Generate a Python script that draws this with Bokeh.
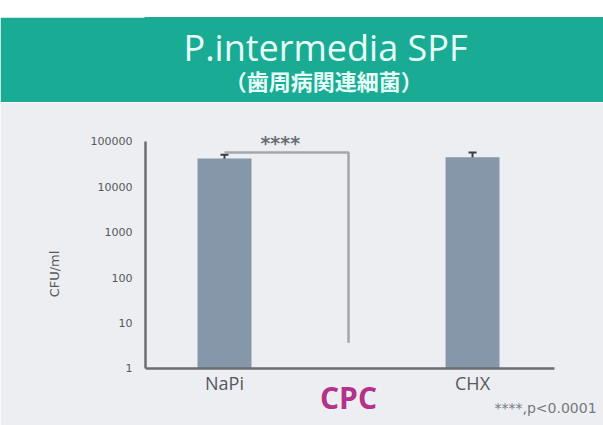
from bokeh.plotting import figure
from bokeh.layouts import column
from bokeh.models import (Range1d, FixedTicker, PrintfTickFormatter, Whisker,
                          ColumnDataSource, TeeHead, Spacer)
from bokeh.embed import file_html
from bokeh.resources import INLINE
from bokeh.core.properties import value

# ---- data ----
categories = ["NaPi", "CPC", "CHX"]
cfu_mean = [42000, 0, 45000]
cfu_err = [9000, 0, 12000]
y_ticks = [1, 10, 100, 1000, 10000, 100000]
bracket_y = 57000      # significance bracket level
bracket_end = 3.7      # lower end of bracket at CPC
sig_text = "****"
p_note = "****,p<0.0001"
title_text = "P.intermedia SPF"
subtitle_text = "（歯周病関連細菌）"

W = 603
LEFT = 145
GREEN = "#1aab94"
BAR = "#8597a8"
AX = "#6a6d72"
TXT = "#55585c"
BG = "#edeef2"

# ---- banner ----
top_pad = Spacer(width=W, height=17)
banner = figure(width=W, height=85, x_range=Range1d(0, 1), y_range=Range1d(0, 1),
                x_axis_location=None, y_axis_location=None, toolbar_location=None,
                output_backend="svg", min_border=0, min_border_left=LEFT,
                border_fill_color=GREEN, background_fill_color=GREEN,
                outline_line_color=GREEN, outline_line_width=2)
banner.grid.visible = False
banner.text(x=[0.393], y=[0.647], text=[title_text], text_font=value("Open Sans"),
            text_font_size="36px", text_color="#e6fff8", text_align="center",
            text_baseline="middle")
banner.text(x=[0.389], y=[0.27], text=[subtitle_text], text_font=value("Noto Sans CJK JP"),
            text_font_size="22px", text_font_style="bold", text_color="#e6fff8",
            text_align="center", text_baseline="middle")

# ---- chart ----
xs = list(range(len(categories)))
p = figure(width=W, height=323, x_range=Range1d(-0.637, 3.056),
           y_range=Range1d(0.0555, 262000), y_axis_type="log",
           x_axis_location=None, toolbar_location=None, output_backend="svg",
           min_border_left=LEFT, min_border_right=0, min_border_top=20, min_border_bottom=0,
           background_fill_color=BG, border_fill_color=BG,
           outline_line_color=BG, outline_line_width=2)
p.grid.visible = False

bx = [x for x, v in zip(xs, cfu_mean) if v > 0]
bt = [v for v in cfu_mean if v > 0]
be = [e for v, e in zip(cfu_mean, cfu_err) if v > 0]
src = ColumnDataSource(dict(x=bx, top=bt, upper=[t + e for t, e in zip(bt, be)],
                            lower=[t - e for t, e in zip(bt, be)]))
p.vbar(x="x", top="top", bottom=y_ticks[0], width=0.435, source=src,
       fill_color=BAR, line_color=None)
p.add_layout(Whisker(base="x", upper="upper", lower="lower", source=src,
                     line_color="#3b3d40", line_width=2,
                     upper_head=TeeHead(size=8, line_color="#3b3d40", line_width=2),
                     lower_head=TeeHead(size=8, line_color="#3b3d40", line_width=2)))

# x axis line (at y = 1)
p.segment(x0=[-0.637], y0=[y_ticks[0]], x1=[xs[-1] + 0.66], y1=[y_ticks[0]],
          line_color=AX, line_width=2.5)

# significance bracket NaPi -> CPC
p.line(x=[xs[0], xs[1], xs[1]], y=[bracket_y, bracket_y, bracket_end],
       line_color="#a3a6aa", line_width=2.5)
p.text(x=[0.45], y=[93000], text=[sig_text], text_font=value("DejaVu Sans"),
       text_font_size="19px", text_font_style="bold", text_color="#6a6d72",
       text_align="center", text_baseline="middle")

# category labels
p.text(x=[xs[0], xs[2]], y=[0.47, 0.47], text=[categories[0], categories[2]],
       text_font=value("Open Sans"), text_font_size="18px", text_color=TXT,
       text_align="center", text_baseline="middle")
p.text(x=[xs[1]], y=[0.235], text=[categories[1]], text_font=value("Open Sans"),
       text_font_size="30px", text_font_style="bold", text_color="#b3328a",
       text_align="center", text_baseline="middle")
p.text(x=[3.0], y=[0.133], text=[p_note], text_font=value("DejaVu Sans"),
       text_font_size="14px", text_color="#75787d", text_align="right",
       text_baseline="middle")

# y axis
p.yaxis.bounds = (y_ticks[0], y_ticks[-1])
p.yaxis.ticker = FixedTicker(ticks=y_ticks)
p.yaxis.formatter = PrintfTickFormatter(format="%d")
p.yaxis.major_label_text_font = "DejaVu Sans"
p.yaxis.major_label_text_font_size = "11px"
p.yaxis.major_label_text_color = TXT
p.yaxis.major_label_standoff = 7
p.yaxis.axis_label = "CFU/ml"
p.yaxis.axis_label_text_font = "DejaVu Sans"
p.yaxis.axis_label_text_font_style = "normal"
p.yaxis.axis_label_text_font_size = "13px"
p.yaxis.axis_label_text_color = TXT
p.yaxis.axis_label_standoff = 26
p.yaxis.axis_line_color = AX
p.yaxis.axis_line_width = 2.5
p.yaxis.major_tick_line_color = None
p.yaxis.minor_tick_line_color = None

layout = column(top_pad, banner, p, spacing=0)
open("out.html", "w").write(file_html(layout, INLINE))
